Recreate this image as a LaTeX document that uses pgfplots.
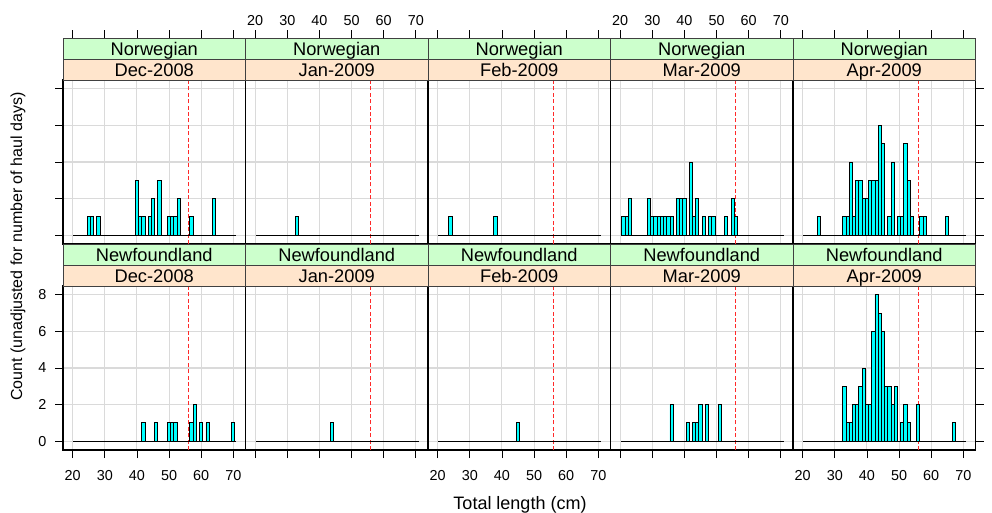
\documentclass[border=0pt]{standalone}
\usepackage{pgfplots}
\pgfplotsset{compat=1.18}
\usepackage{fontspec}
\setmainfont{Liberation Sans}

\definecolor{stripgreen}{HTML}{CCFFCC}
\definecolor{strippeach}{HTML}{FFE5CC}
\definecolor{barcyan}{HTML}{00FFFF}
\definecolor{gridgray}{HTML}{DADADA}
\definecolor{refred}{HTML}{FF2A2A}

% 1px = 0.75pt ; panel 182.5px x 164px
\pgfplotsset{
  panel/.style={
    scale only axis, width=136.875pt, height=123pt, anchor=north west,
    xmin=17, xmax=73.8, ymin=-0.48, ymax=8.48,
    xtick={20,30,...,70}, ytick={0,2,...,8},
    xticklabels={}, yticklabels={},
    grid=major, major grid style={draw=gridgray, line width=0.8pt},
    tick align=outside, major tick length=6pt,
    every tick/.style={black, line width=0.6pt},
    axis line style={black, line width=0.8pt},
    tick label style={font=\fontsize{10.8}{12}\selectfont},
    xticklabel style={yshift=-6pt},
    yticklabel style={xshift=-3pt},
    /pgf/number format/assume math mode=true,
    xtick pos=lower, ytick pos=left,
  },
  toprow/.style={x tick style={draw=none}},
  midcol/.style={y tick style={draw=none}},
  rightcol/.style={ytick pos=right},
  xlab/.style={xticklabels={20,30,40,50,60,70}},
  ticktop/.style={
    scale only axis, width=136.875pt, height=31.5pt, anchor=north west,
    xmin=17, xmax=73.8, ymin=0, ymax=1,
    xtick={20,30,...,70}, ytick=\empty, xticklabels={},
    axis line style={draw=none}, tick align=outside, major tick length=6pt,
    every tick/.style={black, line width=0.6pt},
    xtick pos=upper, xticklabel pos=upper,
    tick label style={font=\fontsize{10.8}{12}\selectfont},
    /pgf/number format/assume math mode=true,
  },
  hist/.style={ybar, bar width=1, bar shift=0, fill=barcyan, draw=black, line width=0.65pt},
  base/.style={black, line width=0.9pt},
  refline/.style={refred, dash pattern=on 3pt off 1.8pt, line width=0.9pt},
}

\newcommand{\strips}[3]{%
  \draw[fill=strippeach, draw=black!75, line width=0.6pt] (#1.north west) rectangle ([yshift=15.75pt]#1.north east);
  \node[anchor=base, inner sep=0pt, font=\fontsize{13.7}{14}\selectfont] at ([yshift=3pt]#1.north) {#3};
  \draw[fill=stripgreen, draw=black!75, line width=0.6pt] ([yshift=15.75pt]#1.north west) rectangle ([yshift=31.5pt]#1.north east);
  \node[anchor=base, inner sep=0pt, font=\fontsize{13.7}{14}\selectfont] at ([yshift=18.75pt]#1.north) {#2};
}

\begin{document}
\begin{tikzpicture}
\useasboundingbox (0,0) rectangle (744pt,-384pt);

% ---------- top tick rows ----------
\begin{axis}[ticktop, at={(47.25pt,-28.5pt)}] \end{axis}
\begin{axis}[ticktop, at={(184.125pt,-28.5pt)}, xlab] \end{axis}
\begin{axis}[ticktop, at={(321pt,-28.5pt)}] \end{axis}
\begin{axis}[ticktop, at={(457.875pt,-28.5pt)}, xlab] \end{axis}
\begin{axis}[ticktop, at={(594.75pt,-28.5pt)}] \end{axis}

% ---------- Norwegian ----------
\begin{axis}[panel, toprow, name=n1, at={(47.25pt,-60pt)}]
\addplot[refline] coordinates {(56,-0.48) (56,8.48)};
\addplot[base] coordinates {(20.2,0) (70.9,0)};
\addplot[hist] coordinates {(25,1)(26,1)(28,1)(40,3)(41,1)(42,1)(44,1)(45,2)(47,3)(50,1)(51,1)(52,1)(53,2)(57,1)(64,2)};
\end{axis}
\begin{axis}[panel, toprow, midcol, name=n2, at={(184.125pt,-60pt)}]
\addplot[refline] coordinates {(56,-0.48) (56,8.48)};
\addplot[base] coordinates {(20.2,0) (70.9,0)};
\addplot[hist] coordinates {(33,1)};
\end{axis}
\begin{axis}[panel, toprow, midcol, name=n3, at={(321pt,-60pt)}]
\addplot[refline] coordinates {(56,-0.48) (56,8.48)};
\addplot[base] coordinates {(20.2,0) (70.9,0)};
\addplot[hist] coordinates {(24,1)(38,1)};
\end{axis}
\begin{axis}[panel, toprow, midcol, name=n4, at={(457.875pt,-60pt)}]
\addplot[refline] coordinates {(56,-0.48) (56,8.48)};
\addplot[base] coordinates {(20.2,0) (70.9,0)};
\addplot[hist] coordinates {(21,1)(22,1)(23,2)(29,2)(30,1)(31,1)(32,1)(33,1)(34,1)(35,1)(36,1)(38,2)(39,2)(40,2)(42,4)(43,1)(44,2)(46,1)(48,1)(49,1)(53,1)(55,2)(56,1)};
\end{axis}
\begin{axis}[panel, toprow, rightcol, name=n5, at={(594.75pt,-60pt)}]
\addplot[refline] coordinates {(56,-0.48) (56,8.48)};
\addplot[base] coordinates {(20.2,0) (70.9,0)};
\addplot[hist] coordinates {(25,1)(33,1)(34,1)(35,4)(36,1)(37,3)(38,3)(39,2)(40,2)(41,3)(42,3)(43,3)(44,6)(45,5)(47,1)(48,4)(50,1)(51,1)(52,5)(53,3)(54,1)(57,1)(58,1)(65,1)};
\end{axis}

% ---------- Newfoundland ----------
\begin{axis}[panel, xlab, yticklabels={0,2,4,6,8}, name=f1, at={(47.25pt,-214.5pt)}]
\addplot[refline] coordinates {(56,-0.48) (56,8.48)};
\addplot[base] coordinates {(20.2,0) (70.9,0)};
\addplot[hist] coordinates {(42,1)(46,1)(50,1)(51,1)(52,1)(57,1)(58,2)(60,1)(62,1)(70,1)};
\end{axis}
\begin{axis}[panel, midcol, name=f2, at={(184.125pt,-214.5pt)}]
\addplot[refline] coordinates {(56,-0.48) (56,8.48)};
\addplot[base] coordinates {(20.2,0) (70.9,0)};
\addplot[hist] coordinates {(44,1)};
\end{axis}
\begin{axis}[panel, midcol, xlab, name=f3, at={(321pt,-214.5pt)}]
\addplot[refline] coordinates {(56,-0.48) (56,8.48)};
\addplot[base] coordinates {(20.2,0) (70.9,0)};
\addplot[hist] coordinates {(45,1)};
\end{axis}
\begin{axis}[panel, midcol, name=f4, at={(457.875pt,-214.5pt)}]
\addplot[refline] coordinates {(56,-0.48) (56,8.48)};
\addplot[base] coordinates {(20.2,0) (70.9,0)};
\addplot[hist] coordinates {(36,2)(41,1)(43,1)(44,1)(45,2)(47,2)(51,2)};
\end{axis}
\begin{axis}[panel, rightcol, xlab, name=f5, at={(594.75pt,-214.5pt)}]
\addplot[refline] coordinates {(56,-0.48) (56,8.48)};
\addplot[base] coordinates {(20.2,0) (70.9,0)};
\addplot[hist] coordinates {(33,3)(34,1)(35,1)(36,2)(37,2)(38,3)(39,4)(40,2)(41,2)(42,6)(43,8)(44,7)(45,6)(46,3)(47,3)(48,2)(49,3)(51,1)(52,2)(53,1)(56,2)(67,1)};
\end{axis}

\strips{n1}{Norwegian}{Dec-2008}
\strips{n2}{Norwegian}{Jan-2009}
\strips{n3}{Norwegian}{Feb-2009}
\strips{n4}{Norwegian}{Mar-2009}
\strips{n5}{Norwegian}{Apr-2009}
\strips{f1}{Newfoundland}{Dec-2008}
\strips{f2}{Newfoundland}{Jan-2009}
\strips{f3}{Newfoundland}{Feb-2009}
\strips{f4}{Newfoundland}{Mar-2009}
\strips{f5}{Newfoundland}{Apr-2009}

\node[rotate=90, font=\fontsize{12}{13}\selectfont] at (13.5pt,-185pt) {Count (unadjusted for number of haul days)};
\node[font=\fontsize{13.5}{14}\selectfont] at (390pt,-378.5pt) {Total length (cm)};
\end{tikzpicture}
\end{document}
